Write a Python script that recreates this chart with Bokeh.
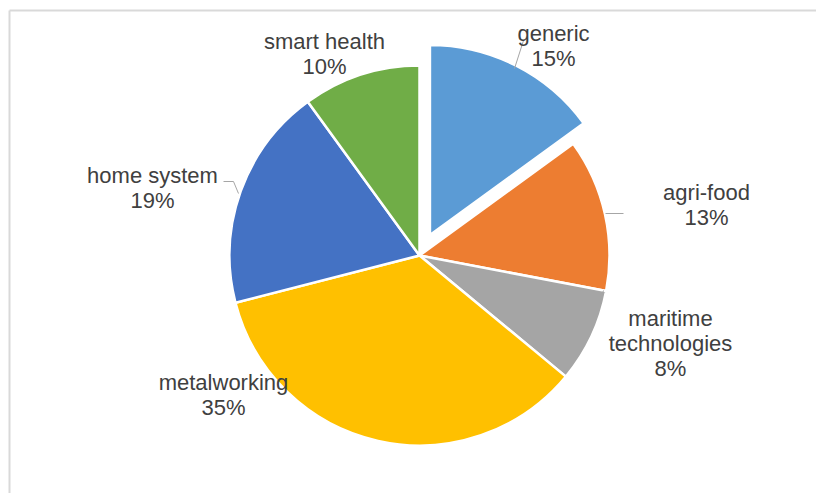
import math
from bokeh.plotting import figure
from bokeh.models import Range1d, ColumnDataSource
from bokeh.core.properties import value
from bokeh.embed import file_html
from bokeh.resources import INLINE

# ---- data ----
categories = ["generic", "agri-food", "maritime\ntechnologies", "metalworking", "home system", "smart health"]
values = [15, 13, 8, 35, 19, 10]
colors = ["#5B9BD5", "#ED7D31", "#A5A5A5", "#FFC000", "#4472C4", "#70AD47"]

# ---- layout (pixels, screen coords: y downward) ----
W, H = 816, 493
CX, CY, R = 419, 255, 190
explode = [23, 0, 0, 0, 0, 0]
label_pos = [(553, 33), (706, 192), (670, 318), (223, 382), (152, 175), (324, 41)]
LINE_H = 25
leaders = [
    [(523, 40), (514, 68)],
    [(623, 213), (605, 213)],
    [(603, 290), (600, 298)],
    [],
    [(223, 181), (233, 181), (238, 193)],
    [],
]

def Y(y):
    return H - y

p = figure(width=W, height=H, x_range=Range1d(0, W), y_range=Range1d(0, H),
           output_backend="svg", toolbar_location=None, min_border=0)
p.axis.visible = False
p.grid.visible = False
p.outline_line_color = None
p.background_fill_color = "white"
p.border_fill_color = "white"

# frame border
p.line([9, 9], [Y(10), Y(H + 5)], line_color="#d9d9d9", line_width=2)
p.line([9, W + 5], [Y(10), Y(10)], line_color="#d9d9d9", line_width=2)

total = sum(values)
xs, ys, starts, ends = [], [], [], []
cum = 0.0
for v, e in zip(values, explode):
    a0 = math.pi / 2 - 2 * math.pi * (cum + v) / total
    a1 = math.pi / 2 - 2 * math.pi * cum / total
    mid = (a0 + a1) / 2
    xs.append(CX + e * math.cos(mid))
    ys.append(Y(CY) + e * math.sin(mid))
    starts.append(a0)
    ends.append(a1)
    cum += v

src = ColumnDataSource(dict(x=xs, y=ys, s=starts, e=ends, c=colors))
p.wedge(x="x", y="y", radius=R, start_angle="s", end_angle="e", fill_color="c",
        line_color="white", line_width=2.5, source=src)

# leader lines
for pts in leaders:
    if pts:
        p.line([q[0] for q in pts], [Y(q[1]) for q in pts], line_color="#a6a6a6", line_width=1)

# labels
tx, ty, tt = [], [], []
for cat, v, (lx, ly) in zip(categories, values, label_pos):
    lines = cat.split("\n") + [f"{v}%"]
    for i, ln in enumerate(lines):
        tx.append(lx)
        ty.append(Y(ly + i * LINE_H))
        tt.append(ln)
p.text(x=tx, y=ty, text=tt, text_align="center", text_baseline="middle",
       text_font=value("Liberation Sans"), text_font_size="22px", text_color="#404040")

open("out.html", "w").write(file_html(p, INLINE))
